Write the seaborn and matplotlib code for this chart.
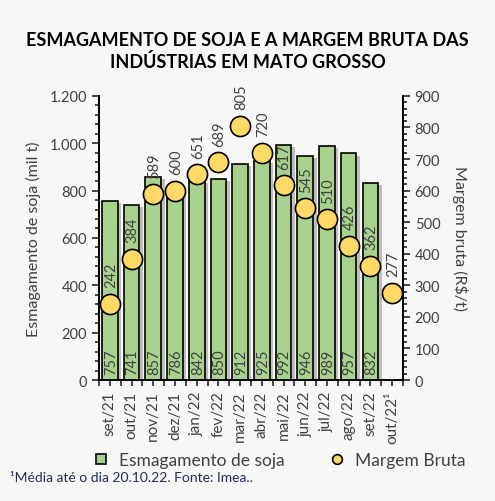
import numpy as np
import pandas as pd
import seaborn as sns
import matplotlib.pyplot as plt
import matplotlib.patheffects as pe
from matplotlib.ticker import MultipleLocator, FuncFormatter
from matplotlib.lines import Line2D

# Data
meses = ['set/21', 'out/21', 'nov/21', 'dez/21', 'jan/22', 'fev/22', 'mar/22',
         'abr/22', 'mai/22', 'jun/22', 'jul/22', 'ago/22', 'set/22', 'out/22¹']
esmagamento = [757, 741, 857, 786, 842, 850, 912, 925, 992, 946, 989, 957, 832, np.nan]
margem = [242, 384, 589, 600, 651, 689, 805, 720, 617, 545, 510, 426, 362, 277]

df = pd.DataFrame({'mes': meses, 'esmagamento': esmagamento, 'margem': margem})
df['x'] = range(len(df))

sns.set_style('ticks')
plt.rcParams['font.family'] = ['Lato', 'DejaVu Sans']
bg = '#f7f7f5'
txt = '#404040'

fig = plt.figure(figsize=(4.95, 5.02), dpi=100, facecolor=bg)
ax = fig.add_axes([0.2, 0.241, 0.614, 0.566], facecolor=bg)

# Bars
sns.barplot(data=df, x='x', y='esmagamento', color='#a9d18e', edgecolor='black',
            linewidth=1.2, width=0.72, saturation=1, ax=ax, order=df['x'])
for p in ax.patches:
    p.set_path_effects([pe.SimplePatchShadow(offset=(2.5, -1.5), shadow_rgbFace='#999999', alpha=0.6),
                        pe.Normal()])
for i, v in enumerate(esmagamento):
    if not np.isnan(v):
        ax.text(i + 0.05, 25, f'{v:.0f}', rotation=90, ha='center', va='bottom',
                fontsize=10.5, color=txt)

ax.set_xlim(-0.5, 13.5)
ax.set_ylim(0, 1200)
ax.yaxis.set_major_locator(MultipleLocator(200))
ax.yaxis.set_minor_locator(MultipleLocator(40))
ax.yaxis.set_major_formatter(FuncFormatter(lambda v, p: f'{v:,.0f}'.replace(',', '.')))
ax.set_xticks(range(len(meses)))
ax.set_xticklabels(meses, rotation=90, fontsize=11, color=txt)
ax.set_xticks(np.arange(-0.5, 13.6, 1), minor=True)
ax.tick_params(axis='y', which='major', length=5, width=1.2, labelsize=10.5, labelcolor=txt)
ax.tick_params(axis='y', which='minor', length=3, width=1.2)
ax.tick_params(axis='x', which='both', length=4, width=1.2)
ax.set_xlabel('')
ax.set_ylabel('Esmagamento de soja (mil t)', fontsize=11.5, color=txt, labelpad=6)

# Margin dots
ax2 = ax.twinx()
sns.scatterplot(data=df, x='x', y='margem', s=210, color='#ffd966', edgecolor='black',
                linewidth=1.2, zorder=5, ax=ax2, legend=False)
for i, v in enumerate(margem):
    ax2.text(i + 0.05, v + 52, f'{v}', rotation=90, ha='center', va='bottom',
             fontsize=10.5, color=txt)
ax2.set_ylim(0, 900)
ax2.yaxis.set_major_locator(MultipleLocator(100))
ax2.yaxis.set_minor_locator(MultipleLocator(20))
ax2.tick_params(axis='y', which='major', length=5, width=1.2, labelsize=10.5, labelcolor=txt)
ax2.tick_params(axis='y', which='minor', length=3, width=1.2)
ax2.set_ylabel('Margem bruta (R$/t)', fontsize=11.5, color=txt, rotation=270, labelpad=20)
ax2.set_xlabel('')

for a in (ax, ax2):
    a.spines['top'].set_visible(False)
    for s in ('left', 'right', 'bottom'):
        a.spines[s].set_linewidth(1.3)
        a.spines[s].set_color('black')

fig.text(0.5, 0.898, 'ESMAGAMENTO DE SOJA E A MARGEM BRUTA DAS\nINDÚSTRIAS EM MATO GROSSO',
         ha='center', va='center', fontsize=13, fontweight='bold', color='black',
         linespacing=1.25)

handles = [Line2D([], [], marker='s', ls='', markerfacecolor='#a9d18e', markeredgecolor='black',
                  markersize=7, markeredgewidth=1.2, label='Esmagamento de soja'),
           Line2D([], [], marker='o', ls='', markerfacecolor='#ffd966', markeredgecolor='black',
                  markersize=7, markeredgewidth=1.2, label='Margem Bruta')]
fig.legend(handles=handles, loc='center', bbox_to_anchor=(0.555, 0.082), ncol=2, frameon=False,
           fontsize=12.5, handletextpad=0.05, columnspacing=2.0, labelcolor=txt)

fig.text(0.02, 0.048, '¹Média até o dia 20.10.22. Fonte: Imea..', fontsize=10, color='#1f2d5a',
         va='center')

fig.savefig('out.png', dpi=100, facecolor=bg)
